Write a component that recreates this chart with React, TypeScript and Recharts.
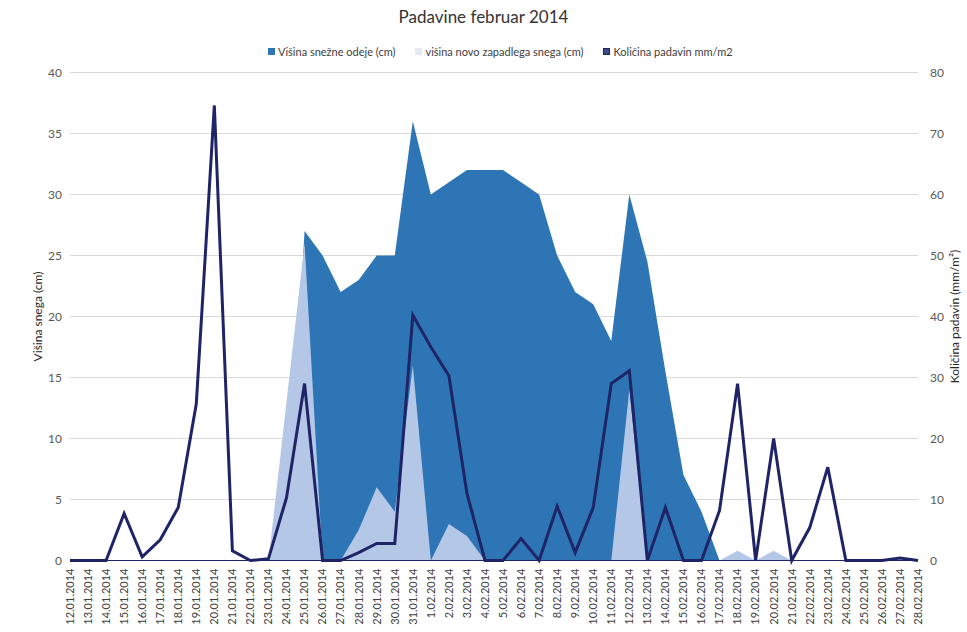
import { ComposedChart, Area, Line, XAxis, YAxis, CartesianGrid } from "recharts";

const dates = [
  "12.01.2014", "13.01.2014", "14.01.2014", "15.01.2014", "16.01.2014", "17.01.2014",
  "18.01.2014", "19.01.2014", "20.01.2014", "21.01.2014", "22.01.2014", "23.01.2014",
  "24.01.2014", "25.01.2014", "26.01.2014", "27.01.2014", "28.01.2014", "29.01.2014",
  "30.01.2014", "31.01.2014", "1.02.2014", "2.02.2014", "3.02.2014", "4.02.2014",
  "5.02.2014", "6.02.2014", "7.02.2014", "8.02.2014", "9.02.2014", "10.02.2014",
  "11.02.2014", "12.02.2014", "13.02.2014", "14.02.2014", "15.02.2014", "16.02.2014",
  "17.02.2014", "18.02.2014", "19.02.2014", "20.02.2014", "21.02.2014", "22.02.2014",
  "23.02.2014", "24.02.2014", "25.02.2014", "26.02.2014", "27.02.2014", "28.02.2014",
];

// višina snežne odeje (cm)
const snowDepth = [
  0, 0, 0, 0, 0, 0, 0, 0, 0, 0, 0, 0,
  0, 27, 25, 22, 23, 25, 25, 36, 30, 31, 32, 32,
  32, 31, 30, 25, 22, 21, 18, 30, 24.5, 15.5, 7, 4,
  0, 0, 0, 0, 0, 0, 0, 0, 0, 0, 0, 0,
];

// višina novo zapadlega snega (cm)
const newSnow = [
  0, 0, 0, 0, 0, 0, 0, 0, 0, 0, 0, 0,
  13, 26, 0, 0, 2.5, 6, 4, 16, 0, 3, 2, 0,
  0, 0, 0, 0, 0, 0, 0, 14, 0, 0, 0, 0,
  0, 0.8, 0, 0.8, 0, 0, 0, 0, 0, 0, 0, 0,
];

// količina padavin (mm/m2)
const precipitation = [
  0, 0, 0, 7.7, 0.6, 3.4, 8.7, 25.7, 74.6, 1.6, 0, 0.3,
  10.3, 29, 0, 0, 1.3, 2.8, 2.8, 40.2, 35, 30.3, 11, 0,
  0, 3.6, 0, 8.9, 1.3, 8.7, 29, 31.1, 0, 8.7, 0, 0,
  8.2, 29, 0, 20, 0, 5.4, 15.3, 0, 0, 0, 0.4, 0,
];

const leftTicks = [0, 5, 10, 15, 20, 25, 30, 35, 40];
const rightTicks = [0, 10, 20, 30, 40, 50, 60, 70, 80];

const data = dates.map((date, i) => ({
  date,
  depth: snowDepth[i],
  fresh: newSnow[i],
  rain: precipitation[i],
}));

const DARK = "#2E75B6";
const LIGHT = "#B4C7E7";
const NAVY = "#1F2466";

const DateTick = ({ x, y, payload }: any) => (
  <text
    x={x}
    y={y}
    dy="0.35em"
    transform={`rotate(-90, ${x}, ${y})`}
    textAnchor="end"
    fontSize={11}
    fill="#404040"
  >
    {payload.value}
  </text>
);

const legendItems = [
  { label: "Višina snežne odeje (cm)", color: DARK, border: DARK },
  { label: "višina novo zapadlega snega (cm)", color: "#E4E9F2", border: "#E4E9F2" },
  { label: "Količina padavin mm/m2", color: "#3F4A8A", border: NAVY },
];

export default function App() {
  return (
    <div style={{ position: "absolute", left: 0, top: 0, width: 967, height: 632, fontFamily: "Lato, sans-serif", background: "#fff" }}>
      <div style={{ position: "absolute", left: 0, width: 967, top: 6, textAlign: "center", fontSize: 17, color: "#333" }}>
        Padavine februar 2014
      </div>
      <div style={{ position: "absolute", left: 268, top: 45, display: "flex", gap: 20, fontSize: 11, color: "#404040" }}>
        {legendItems.map((it) => (
          <div key={it.label} style={{ display: "flex", alignItems: "center", gap: 3 }}>
            <span style={{ width: 5, height: 5, background: it.color, border: `1.5px solid ${it.border}`, display: "inline-block" }} />
            <span>{it.label}</span>
          </div>
        ))}
      </div>
      <ComposedChart width={967} height={632} data={data} margin={{ top: 72.5, right: 0, bottom: 0, left: 8 }}>
        <CartesianGrid vertical={false} stroke="#D9D9D9" yAxisId="left" />
        <XAxis
          dataKey="date"
          scale="point"
          interval={0}
          height={71.5}
          tickLine={false}
          axisLine={{ stroke: NAVY }}
          tick={<DateTick />}
          padding={{ left: 0, right: 0 }}
        />
        <YAxis
          yAxisId="left"
          width={62}
          domain={[0, 40]}
          ticks={leftTicks}
          axisLine={false}
          tickLine={false}
          tickMargin={2}
          tick={{ fill: "#595959", fontSize: 12 }}
          label={{
            value: "Višina snega (cm)",
            angle: -90,
            position: "insideLeft",
            offset: 30,
            style: { textAnchor: "middle", fill: "#262626", fontSize: 12 },
          }}
        />
        <YAxis
          yAxisId="right"
          orientation="right"
          width={49}
          domain={[0, 80]}
          ticks={rightTicks}
          axisLine={false}
          tickLine={false}
          tickMargin={6}
          tick={{ fill: "#595959", fontSize: 12 }}
          label={{
            value: "Količina padavin (mm/m²)",
            angle: -90,
            position: "insideRight",
            offset: 12,
            style: { textAnchor: "middle", fill: "#262626", fontSize: 12 },
          }}
        />
        <Area
          yAxisId="left"
          type="linear"
          dataKey="depth"
          stroke="none"
          fill={DARK}
          fillOpacity={1}
          isAnimationActive={false}
          name="Višina snežne odeje (cm)"
        />
        <Area
          yAxisId="left"
          type="linear"
          dataKey="fresh"
          stroke="none"
          fill={LIGHT}
          fillOpacity={1}
          isAnimationActive={false}
          name="višina novo zapadlega snega (cm)"
        />
        <Line
          yAxisId="right"
          type="linear"
          dataKey="rain"
          stroke={NAVY}
          strokeWidth={3}
          dot={false}
          isAnimationActive={false}
          name="Količina padavin mm/m2"
        />
      </ComposedChart>
    </div>
  );
}
